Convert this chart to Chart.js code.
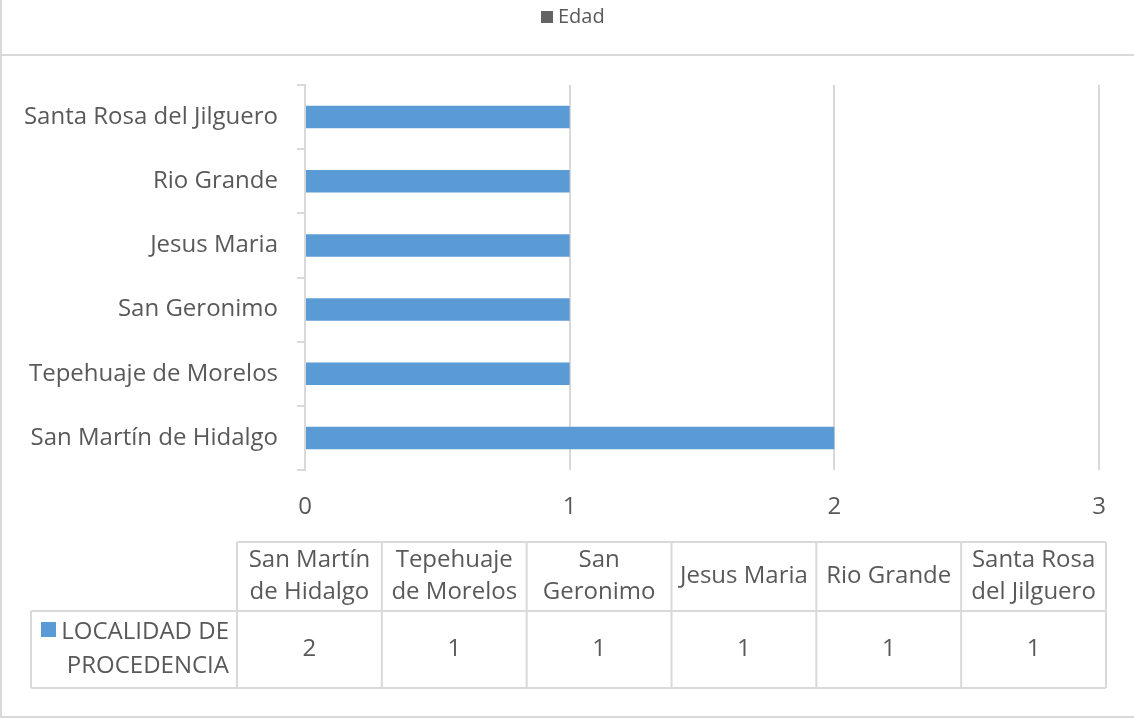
<!DOCTYPE html>
<html>
<head>
<meta charset="utf-8">
<script src="https://cdn.jsdelivr.net/npm/chart.js@4.4.0/dist/chart.umd.min.js"></script>
<style>
  html, body { margin: 0; padding: 0; background: #fff; }
  #wrap { position: relative; width: 1134px; height: 719px; }
</style>
</head>
<body>
<div id="wrap"><canvas id="grafica"></canvas></div>
<script>
const categorias = ['San Martín de Hidalgo', 'Tepehuaje de Morelos', 'San Geronimo', 'Jesus Maria', 'Rio Grande', 'Santa Rosa del Jilguero'];
const valores = [2, 1, 1, 1, 1, 1];
const ticksX = [0, 1, 2, 3];
const nombreSerie = 'LOCALIDAD DE PROCEDENCIA';
const leyendaArriba = 'Edad';

const gris = '#d9d9d9';
const texto = '#595959';
const azul = '#5b9bd5';
const fuente = "'Open Sans', sans-serif";

function partir(ctx, txt, max) {
  const palabras = txt.split(' ');
  const lineas = [];
  let actual = '';
  palabras.forEach(p => {
    const prueba = actual ? actual + ' ' + p : p;
    if (actual && ctx.measureText(prueba).width > max) {
      lineas.push(actual);
      actual = p;
    } else {
      actual = prueba;
    }
  });
  if (actual) lineas.push(actual);
  return lineas;
}

const tablaPlugin = {
  id: 'tabla',
  afterDraw(chart) {
    const ctx = chart.ctx;
    ctx.save();
    // marcos
    ctx.strokeStyle = gris;
    ctx.lineWidth = 2;
    ctx.beginPath();
    ctx.moveTo(0, 55); ctx.lineTo(1134, 55);
    ctx.moveTo(1, 0); ctx.lineTo(1, 717); ctx.lineTo(1134, 717);
    ctx.stroke();

    // leyenda de arriba
    ctx.fillStyle = '#636363';
    ctx.fillRect(541, 11, 12, 12);
    ctx.fillStyle = texto;
    ctx.font = '20px ' + fuente;
    ctx.textAlign = 'left';
    ctx.textBaseline = 'middle';
    ctx.fillText(leyendaArriba, 558, 17);

    // tabla de datos
    const x0 = 237, x1 = 1106, xl = 31;
    const y0 = 542, y1 = 611, y2 = 688;
    const w = (x1 - x0) / categorias.length;
    ctx.strokeStyle = gris;
    ctx.lineWidth = 2;
    ctx.beginPath();
    ctx.moveTo(x0, y0); ctx.lineTo(x1, y0);
    ctx.moveTo(xl, y1); ctx.lineTo(x1, y1);
    ctx.moveTo(xl, y2); ctx.lineTo(x1, y2);
    ctx.moveTo(xl, y1); ctx.lineTo(xl, y2);
    for (let i = 0; i <= categorias.length; i++) {
      ctx.moveTo(x0 + i * w, y0); ctx.lineTo(x0 + i * w, y2);
    }
    ctx.stroke();

    ctx.font = '24px ' + fuente;
    ctx.fillStyle = texto;
    ctx.textAlign = 'center';
    ctx.textBaseline = 'middle';
    const alto = 32;
    categorias.forEach((c, i) => {
      const cx = x0 + i * w + w / 2;
      const lineas = partir(ctx, c, w - 6);
      const cy = (y0 + y1) / 2 - (lineas.length - 1) * alto / 2;
      lineas.forEach((l, j) => ctx.fillText(l, cx, cy + j * alto));
      ctx.fillText(String(valores[i]), cx, (y1 + y2) / 2);
    });

    // leyenda de la serie
    ctx.fillStyle = azul;
    ctx.fillRect(41, 622, 15, 15);
    ctx.fillStyle = texto;
    ctx.textAlign = 'right';
    const ls = partir(ctx, nombreSerie, 175);
    ls.forEach((l, j) => ctx.fillText(l, 229, 632 + j * 34));
    ctx.restore();
  }
};

new Chart(document.getElementById('grafica'), {
  type: 'bar',
  data: {
    labels: categorias,
    datasets: [{
      label: nombreSerie,
      data: valores,
      backgroundColor: azul,
      borderWidth: 0,
      barPercentage: 0.35,
      categoryPercentage: 1
    }]
  },
  options: {
    indexAxis: 'y',
    responsive: true,
    maintainAspectRatio: false,
    animation: false,
    layout: { padding: { left: 0, top: 85, right: 35, bottom: 189 } },
    plugins: {
      legend: { display: false },
      tooltip: { enabled: false }
    },
    scales: {
      x: {
        min: 0,
        max: 3,
        afterBuildTicks: s => { s.ticks = ticksX.map(v => ({ value: v })); },
        afterFit: s => { s.height = 60; },
        grid: { color: gris, lineWidth: 2, drawTicks: false },
        border: { display: false },
        ticks: { color: texto, font: { family: fuente, size: 24 }, padding: 23 }
      },
      y: {
        reverse: true,
        afterFit: s => { s.width = 305; },
        grid: { drawOnChartArea: false, color: gris, lineWidth: 2, tickLength: 8, offset: true },
        border: { display: true, color: gris, width: 2 },
        ticks: { color: texto, font: { family: fuente, size: 24 }, padding: 19 }
      }
    }
  },
  plugins: [tablaPlugin]
});
</script>
</body>
</html>
